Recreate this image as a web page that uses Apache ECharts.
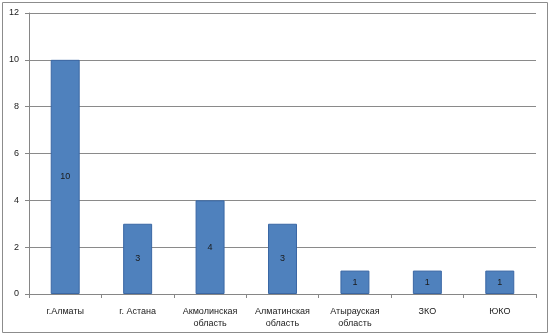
<!DOCTYPE html>
<html>
<head>
<meta charset="utf-8">
<script src="https://cdn.jsdelivr.net/npm/echarts@6/dist/echarts.min.js"></script>
<style>
html, body { margin: 0; padding: 0; background: #fff; }
#chart { width: 550px; height: 336px; }
</style>
</head>
<body>
<div id="chart"></div>
<script>
// Regions and their counts
const categories = ['г.Алматы', 'г. Астана', 'Акмолинская\nобласть', 'Алматинская\nобласть', 'Атырауская\nобласть', 'ЗКО', 'ЮКО'];
const values = [10, 3, 4, 3, 1, 1, 1];
const yTicks = { min: 0, max: 12, interval: 2 };

const chart = echarts.init(document.getElementById('chart'), null, { renderer: 'canvas' });
chart.setOption({
  animation: false,
  textStyle: { fontFamily: 'Liberation Sans, Arial, sans-serif' },
  graphic: [{
    type: 'rect',
    shape: { x: 2.5, y: 2.5, width: 545, height: 330 },
    style: { fill: 'none', stroke: '#8c8c8c', lineWidth: 1 },
    silent: true
  }],
  grid: { left: 29, right: 14, top: 13, bottom: 42 },
  xAxis: {
    type: 'category',
    data: categories,
    axisLine: { lineStyle: { color: '#868686', width: 1 } },
    axisTick: { show: true, length: 4, lineStyle: { color: '#868686' } },
    axisLabel: { color: '#1a1a1a', fontSize: 9, margin: 12, lineHeight: 12, interval: 0 }
  },
  yAxis: {
    type: 'value',
    min: yTicks.min,
    max: yTicks.max,
    interval: yTicks.interval,
    axisLine: { show: true, lineStyle: { color: '#868686', width: 1 } },
    axisTick: { show: true, length: 4, lineStyle: { color: '#868686' } },
    axisLabel: { color: '#1a1a1a', fontSize: 9, margin: 10 },
    splitLine: { lineStyle: { color: '#8a8a8a', width: 1 } }
  },
  series: [{
    type: 'bar',
    data: values,
    barWidth: '40%',
    itemStyle: { color: '#4f81bd', borderColor: '#3a67a4', borderWidth: 1 },
    label: {
      show: true,
      position: 'inside',
      color: '#1a1a1a',
      fontSize: 9
    }
  }]
});
</script>
</body>
</html>
